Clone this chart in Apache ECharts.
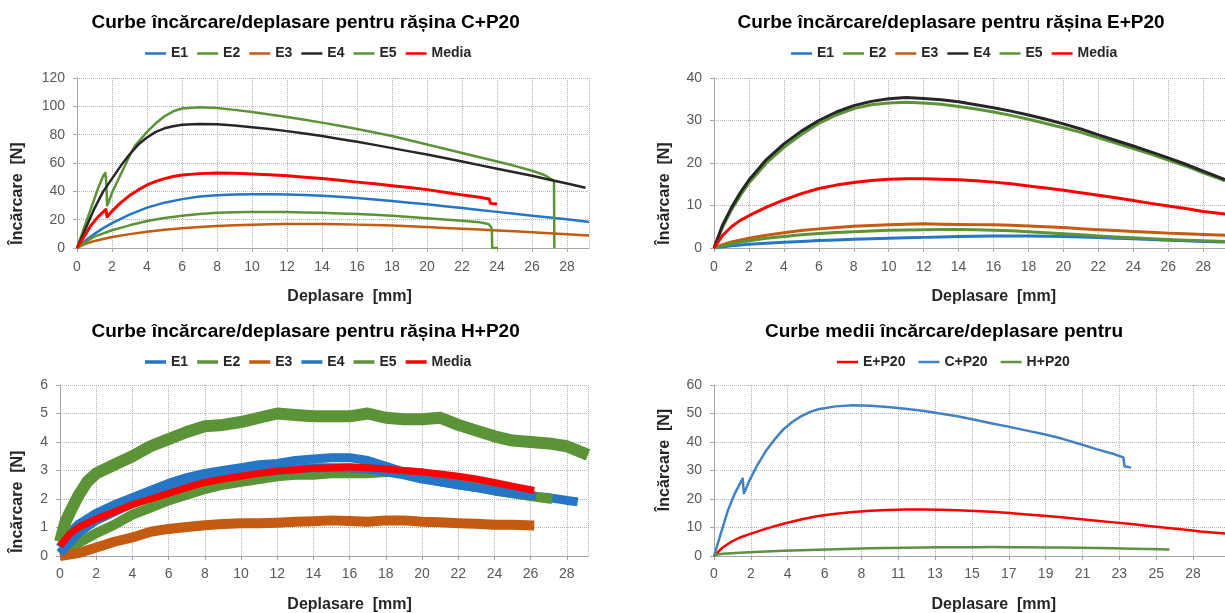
<!DOCTYPE html>
<html>
<head>
<meta charset="utf-8">
<script src="https://cdn.jsdelivr.net/npm/echarts@6/dist/echarts.min.js"></script>
<style>html,body{margin:0;padding:0;background:#fff}#c{width:1225px;height:613px}</style>
</head>
<body>
<div id="c"></div>
<script>
// ---------- tick labels ----------
const avgTickLabels = ['0','2','4','6','8','11','13','15','17','19','21','23','25','28'];
const avgTickStep = 2.12;

// ---------- C+P20 ----------
const C_E1 = [[0,0],[0.5,5.5],[1,10],[1.5,14],[2,17.5],[3,23.5],[4,28.5],[5,32],[6,34.5],[7,36.3],[8,37.3],[9,37.8],[10,38],[11,38],[12,37.8],[13,37.4],[14,36.8],[15,36.2],[16,35.3],[17,34.3],[18,33.2],[19,32],[20,30.8],[21,29.5],[22,28.2],[23,26.8],[24,25.5],[25,24.2],[26,22.8],[27,21.5],[28,20.3],[29.25,18.3]];
const C_E2 = [[0,0],[0.4,14],[0.8,28],[1.2,42],[1.5,51],[1.62,53],[1.68,45],[1.72,30],[1.8,32],[2,39],[2.5,52],[3,65],[3.3,72],[4,82],[4.5,88],[5,93],[5.5,96.5],[6,98.5],[7,99.3],[8,98.8],[9,97.5],[10,96],[11,94.3],[12,92.5],[13,90.5],[14,88.5],[15,86.3],[16,84],[17,81.5],[18,79],[19,76],[20,73],[21,70],[22,67],[23,64],[24,61],[25,58],[26,54.5],[26.7,51.5],[27.25,47.5],[27.27,0]];
const C_E3 = [[0,0],[0.5,3],[1,5],[2,7.8],[3,9.8],[4,11.5],[5,12.8],[6,13.9],[7,14.8],[8,15.5],[9,16],[10,16.4],[11,16.7],[12,16.9],[13,17],[14,16.9],[15,16.8],[16,16.5],[17,16.2],[18,15.8],[19,15.3],[20,14.8],[21,14.2],[22,13.6],[23,13],[24,12.4],[25,11.8],[26,11.1],[27,10.4],[28,9.7],[29.25,8.8]];
const C_E4 = [[0,0],[0.5,14],[1,28],[1.5,40],[2,49],[2.5,58],[3,66],[3.5,73],[4,78],[4.5,82],[5,84.5],[5.5,86],[6,87],[7,87.5],[8,87.3],[9,86.5],[10,85.3],[11,84],[12,82.5],[13,80.8],[14,79],[15,77],[16,75],[17,72.8],[18,70.5],[19,68.2],[20,66],[21,63.5],[22,61],[23,58.5],[24,56],[25,53.5],[26,51],[27,48.2],[28,45.5],[29.05,42.5]];
const C_E5 = [[0,0],[0.5,4.5],[1,8],[2,12.5],[3,16],[4,19],[5,21.2],[6,22.8],[7,24],[8,24.8],[9,25.2],[10,25.5],[11,25.5],[12,25.4],[13,25.1],[14,24.8],[15,24.4],[16,24],[17,23.4],[18,22.7],[19,21.9],[20,21],[21,20.2],[22,19.3],[23,18.2],[23.5,17],[23.65,15],[23.7,13],[23.72,0],[24.05,0]];
const C_Med = [[0,0],[0.4,8],[0.8,16],[1.2,22],[1.5,25.5],[1.65,27.2],[1.72,22],[1.8,23],[2,26],[2.5,32],[3,37],[3.5,41],[4,44.5],[4.5,47],[5,49],[5.5,50.5],[6,51.5],[7,52.5],[8,52.9],[9,52.7],[10,52.3],[11,51.7],[12,51],[13,50],[14,49],[15,47.8],[16,46.5],[17,45.3],[18,44],[19,42.7],[20,41.2],[21,39.4],[22,37.5],[23,35.8],[23.55,34.6],[23.62,31.5],[24,31]];

// ---------- E+P20 ----------
const E_E1 = [[0,0],[1,0.5],[2,0.9],[3,1.1],[4,1.35],[5,1.55],[6,1.75],[7,1.9],[8,2.05],[9,2.15],[10,2.3],[11,2.4],[12,2.5],[13,2.6],[14,2.7],[15,2.75],[16,2.8],[17,2.8],[18,2.8],[19,2.75],[20,2.7],[21,2.6],[22,2.45],[23,2.3],[24,2.15],[25,2],[26,1.85],[27,1.7],[28,1.55],[29.25,1.4]];
const E_E2 = [[0,0],[0.5,5],[1,9],[1.5,12.3],[2,15.3],[3,20],[4,23.7],[5,26.7],[6,29.3],[7,31.3],[8,32.8],[9,33.7],[10,34.1],[11,34.3],[12,34.1],[13,33.8],[14,33.3],[15,32.7],[16,32],[17,31.2],[18,30.3],[19,29.3],[20,28.3],[21,27.2],[22,25.9],[23,24.7],[24,23.4],[25,22.1],[26,20.7],[27,19.3],[28,17.7],[29,16.2],[29.25,15.8]];
const E_E3 = [[0,0],[0.5,0.8],[1,1.4],[2,2.3],[3,3],[4,3.6],[5,4.1],[6,4.5],[7,4.8],[8,5.1],[9,5.3],[10,5.45],[11,5.6],[12,5.7],[13,5.6],[14,5.55],[15,5.5],[16,5.45],[17,5.35],[18,5.2],[19,5],[20,4.8],[21,4.55],[22,4.3],[23,4.1],[24,3.9],[25,3.7],[26,3.5],[27,3.35],[28,3.2],[29.25,3]];
const E_E4 = [[0,0],[0.5,5.5],[1,9.5],[1.5,13],[2,16],[3,20.8],[4,24.5],[5,27.5],[6,30],[7,32],[8,33.5],[9,34.5],[10,35.1],[11,35.4],[12,35.2],[13,34.9],[14,34.4],[15,33.7],[16,33],[17,32.2],[18,31.3],[19,30.3],[20,29.2],[21,28],[22,26.6],[23,25.3],[24,24],[25,22.6],[26,21.2],[27,19.7],[28,18.1],[29,16.5],[29.25,16.1]];
const E_E5 = [[0,0],[0.5,0.5],[1,1],[2,1.7],[3,2.3],[4,2.7],[5,3.1],[6,3.4],[7,3.65],[8,3.85],[9,4],[10,4.15],[11,4.25],[12,4.3],[13,4.35],[14,4.35],[15,4.3],[16,4.2],[17,4.05],[18,3.85],[19,3.6],[20,3.35],[21,3.1],[22,2.85],[23,2.6],[24,2.4],[25,2.2],[26,2],[27,1.85],[28,1.7],[29.25,1.5]];
const E_Med = [[0,0],[0.5,3],[1,5],[1.5,6.5],[2,7.6],[3,9.6],[4,11.3],[5,12.8],[6,14],[7,14.8],[8,15.4],[9,15.9],[10,16.15],[11,16.3],[12,16.3],[13,16.2],[14,16.05],[15,15.8],[16,15.5],[17,15.1],[18,14.6],[19,14.1],[20,13.6],[21,13],[22,12.4],[23,11.8],[24,11.2],[25,10.5],[26,9.9],[27,9.3],[28,8.6],[29.4,7.9]];

// ---------- H+P20 ----------
const H_E1 = [[0,0.3],[0.5,0.8],[1,1.1],[2,1.5],[3,1.8],[4,2.05],[5,2.3],[6,2.55],[7,2.75],[8,2.9],[9,3.0],[10,3.1],[11,3.2],[12,3.25],[13,3.35],[14,3.4],[15,3.45],[16,3.45],[17,3.35],[18,3.15],[19,2.95],[20,2.75],[21,2.6],[22,2.5],[23,2.4],[24,2.3],[25,2.2],[26,2.1],[27,2.05],[28,1.95],[28.6,1.9]];
const H_E2 = [[0,0.1],[1,0.45],[2,0.8],[3,1.1],[4,1.45],[5,1.7],[6,1.95],[7,2.15],[8,2.35],[9,2.5],[10,2.6],[11,2.7],[12,2.8],[13,2.85],[14,2.85],[15,2.9],[16,2.9],[17,2.9],[18,2.95],[19,2.95],[20,2.9],[21,2.75],[22,2.6],[23,2.45],[24,2.3],[25,2.2],[26,2.1],[27.2,2.0]];
const H_E3 = [[0,0],[1,0.1],[2,0.3],[3,0.5],[4,0.65],[5,0.85],[6,0.95],[7,1.02],[8,1.08],[9,1.12],[10,1.15],[11,1.15],[12,1.17],[13,1.2],[14,1.22],[15,1.25],[16,1.23],[17,1.2],[18,1.25],[19,1.25],[20,1.2],[21,1.18],[22,1.15],[23,1.13],[24,1.1],[25,1.1],[26.2,1.07]];
const H_E4 = [[0,0.1],[1,0.8],[2,1.25],[3,1.55],[4,1.85],[5,2.1],[6,2.35],[7,2.55],[8,2.7],[9,2.8],[10,2.9],[11,2.95],[12,3.0],[13,3.05],[14,3.1],[15,3.1],[16,3.1],[17,3.05],[18,2.95],[19,2.85],[20,2.7],[21,2.6],[22,2.5],[23,2.4],[24,2.3],[25,2.2],[26.3,2.1]];
const H_E5 = [[0,0.5],[0.3,1.2],[0.6,1.6],[1,2.1],[1.5,2.6],[2,2.9],[3,3.2],[4,3.5],[5,3.85],[6,4.1],[7,4.35],[8,4.55],[9,4.6],[10,4.7],[11,4.85],[12,5],[13,4.95],[14,4.9],[15,4.9],[16,4.9],[17,5],[18,4.85],[19,4.8],[20,4.8],[21,4.85],[22,4.6],[23,4.4],[24,4.2],[25,4.05],[26,4.0],[27,3.95],[28,3.85],[29.17,3.55]];
const H_Med = [[0,0.35],[0.5,0.75],[1,1.0],[2,1.3],[3,1.55],[4,1.8],[5,2.0],[6,2.2],[7,2.4],[8,2.58],[9,2.7],[10,2.8],[11,2.9],[12,2.98],[13,3.03],[14,3.08],[15,3.1],[16,3.12],[17,3.1],[18,3.05],[19,3.0],[20,2.95],[21,2.88],[22,2.8],[23,2.7],[24,2.58],[25,2.45],[26.2,2.3]];

// ---------- names ----------
const seriesNames = ['E1','E2','E3','E4','E5','Media'];
const avgNames = ['E+P20','C+P20','H+P20'];
const titles = ['Curbe încărcare/deplasare pentru rășina C+P20','Curbe încărcare/deplasare pentru rășina E+P20','Curbe încărcare/deplasare pentru rășina H+P20','Curbe medii încărcare/deplasare pentru'];
const xName = 'Deplasare  [mm]';
const yName = 'Încărcare  [N]';

// ---------- styling ----------
const FONT = '"Liberation Sans", Arial, sans-serif';
const BLUE = '#2576c6', GREEN = '#5b9337', ORANGE = '#c55a11', BLACK = '#262626', RED = '#ff0000';
const BLUE4 = '#4282c4', GREEN4 = '#5e9140';

const grids = [
  {left:77, top:78, width:512, height:170},
  {left:714, top:78, width:527, height:170},
  {left:60, top:385, width:528, height:171},
  {left:714, top:385, width:538, height:171}
];
const xMax = [29.25, 29.25, 29.17, 29.4];
const yMax = [120, 40, 6, 60];
const yInt = [20, 10, 1, 10];

const gridLine = {show:true, lineStyle:{color:'#b3b3b3', type:'dotted', width:1}};
const axLine = {show:true, lineStyle:{color:'#a6a6a6', width:1}};
const axTick = {show:true, length:4, lineStyle:{color:'#a6a6a6'}};
const lblStyle = {fontFamily:FONT, fontSize:14, color:'#595959'};

const xAxes = grids.map((g,i)=>({
  type:'value', gridIndex:i, min:0, max:xMax[i], interval: i===3 ? avgTickStep : 2,
  splitLine:gridLine, axisLine:axLine, axisTick:axTick,
  axisLabel: Object.assign({margin: i < 2 ? 12 : 11, showMaxLabel:false, formatter: i===3
    ? (v)=>{const k=Math.round(v/avgTickStep); return Math.abs(v/avgTickStep-k)<0.01 && avgTickLabels[k]!==undefined ? avgTickLabels[k] : '';}
    : (v)=> (Math.abs(v/2-Math.round(v/2))<1e-6 ? String(v) : '')}, lblStyle)
}));
const yAxes = grids.map((g,i)=>({
  type:'value', gridIndex:i, min:0, max:yMax[i], interval:yInt[i],
  splitLine:gridLine, axisLine:axLine, axisTick:axTick,
  axisLabel: Object.assign({margin:12}, lblStyle)
}));

function line(name, data, color, width, gi){
  return {type:'line', name:name, data:data, xAxisIndex:gi, yAxisIndex:gi, symbol:'none', showSymbol:false,
    lineStyle:{color:color, width:width, join:'round', cap:'butt'}, itemStyle:{color:color},
    animation:false, silent:true, clip:true};
}

const series = [
  line('E1#0', C_E1, BLUE, 2.5, 0),
  line('E2#0', C_E2, GREEN, 2.5, 0),
  line('E3#0', C_E3, ORANGE, 2.5, 0),
  line('E4#0', C_E4, BLACK, 2.5, 0),
  line('E5#0', C_E5, GREEN, 2.5, 0),
  line('Media#0', C_Med, RED, 3, 0),

  line('E1#1', E_E1, BLUE, 3, 1),
  line('E2#1', E_E2, GREEN, 3, 1),
  line('E3#1', E_E3, ORANGE, 3, 1),
  line('E4#1', E_E4, BLACK, 3, 1),
  line('E5#1', E_E5, GREEN, 3, 1),
  line('Media#1', E_Med, RED, 3, 1),

  line('E1#2', H_E1, BLUE, 9, 2),
  line('E2#2', H_E2, GREEN, 10, 2),
  line('E3#2', H_E3, ORANGE, 10, 2),
  line('E4#2', H_E4, BLUE, 9, 2),
  line('E5#2', H_E5, GREEN, 12, 2),
  line('Media#2', H_Med, RED, 7, 2),

  line(avgNames[0], E_Med, RED, 2.5, 3),
  line(avgNames[1], C_Med, BLUE4, 2.5, 3),
  line(avgNames[2], H_Med, GREEN4, 2.5, 3)
];

const legTxt = {fontFamily:FONT, fontSize:14, fontWeight:'bold', color:'#262626'};
function legend(names, left, top, gap, h){
  return {data:names, left:left, top:top, padding:0, icon:'rect', itemWidth:21, itemHeight:h, itemGap:gap,
    selectedMode:false, formatter:(n)=>n.split('#')[0], textStyle:legTxt};
}

const titleStyle = {fontFamily:FONT, fontSize:19, fontWeight:'bold', color:'#000'};
const titleCfg = [[305.6,13.5],[951,13.5],[305.6,322],[944,322]].map((p,i)=>({
  text:titles[i], left:p[0], top:p[1], textAlign:'center', padding:0, textStyle:titleStyle
}));

const nameFont = 'bold 16px ' + FONT;
function txt(t, x, y, rot){
  return {type:'text', x:x, y:y, rotation:rot||0, silent:true,
    style:{text:t, font:nameFont, fill:'#262626', align:'center', verticalAlign:'middle', textAlign:'center', textVerticalAlign:'middle'}};
}

const option = {
  backgroundColor:'#fff',
  animation:false,
  title: titleCfg,
  legend: [
    legend(seriesNames.map(n=>n+'#0'), 145, 46.5, 9, 2.5),
    legend(seriesNames.map(n=>n+'#1'), 791, 46.5, 9, 2.5),
    legend(seriesNames.map(n=>n+'#2'), 145, 355, 9, 3.5),
    legend(avgNames, 837, 355, 13, 2.5)
  ],
  grid: grids,
  xAxis: xAxes,
  yAxis: yAxes,
  series: series,
  graphic: [
    txt(xName, 349.6, 296.7),
    txt(xName, 993.8, 296.7),
    txt(xName, 349.6, 605),
    txt(xName, 993.8, 605),
    txt(yName, 17.6, 193.5, Math.PI/2),
    txt(yName, 664.7, 193.5, Math.PI/2),
    txt(yName, 17.6, 501.7, Math.PI/2),
    txt(yName, 664.7, 460, Math.PI/2)
  ]
};

const chart = echarts.init(document.getElementById('c'), null, {renderer:'canvas'});
chart.setOption(option);
</script>
</body>
</html>
